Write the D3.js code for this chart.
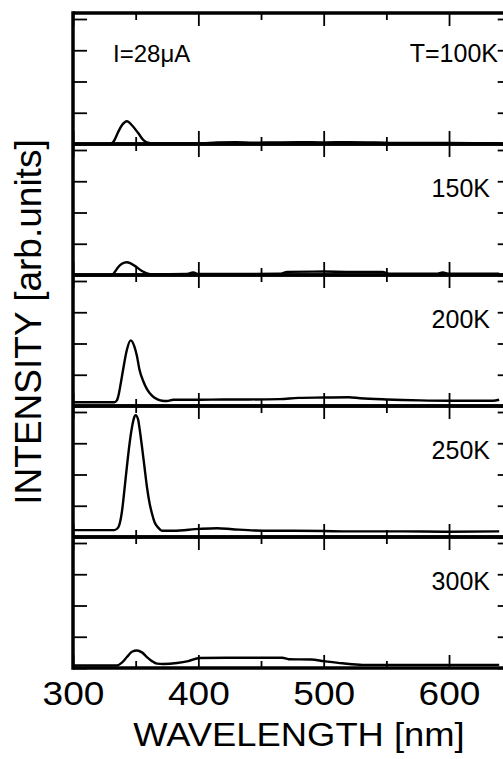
<!DOCTYPE html>
<html>
<head>
<meta charset="utf-8">
<script src="https://cdn.jsdelivr.net/npm/d3@7"></script>
<style>
  body { margin: 0; background: #fff; }
  svg { display: block; }
  text { font-family: "Liberation Sans", Arial, Helvetica, sans-serif; fill: #000; }
</style>
</head>
<body>
<div id="chart"></div>
<script>
// panel labels, top to bottom
const panelLabels = ["T=100K", "150K", "200K", "250K", "300K"];
const currentLabel = "I=28\u03bcA";

// spectra: [wavelength nm, intensity in tick units]
const spec100 = [[300,0],[330,0],[333,0.12],[336,0.38],[339,0.6],[343,0.73],[347,0.6],[352,0.35],[356,0.13],[359,0.05],[364,0.02],
  [400,0.02],[415,0.05],[430,0.06],[444,0.04],[460,0.05],[480,0.06],[500,0.05],[520,0.06],[541,0.05],[560,0.03],[600,0.03],[640,0.02]];
const spec150 = [[300,0],[331,0],[333,0.08],[336,0.25],[339,0.36],[343,0.41],[346,0.37],[349,0.3],[355,0.13],[359,0.05],[364,0.02],
  [390,0.03],[396,0.08],[400,0.03],[465,0.04],[471,0.1],[500,0.11],[520,0.1],[547,0.1],[552,0.04],[590,0.04],[595,0.08],[600,0.04],[640,0.04]];
const spec200 = [[300,0.12],[333,0.12],[335,0.18],[336,0.29],[338,0.7],[340,1.17],[343,1.8],[346,2.1],[349,1.9],[351,1.6],[353,1.17],
  [356,0.8],[359,0.54],[363,0.33],[367,0.22],[371,0.17],[375,0.16],[380,0.2],[400,0.2],[420,0.21],[440,0.21],[465,0.22],
  [480,0.26],[500,0.27],[520,0.28],[529,0.25],[550,0.21],[577,0.18],[600,0.17],[635,0.17],[640,0.2]];
const spec250 = [[300,0.22],[333,0.22],[336,0.3],[339,0.8],[341,1.5],[343,2.25],[345,2.95],[347,3.5],[349,3.85],[350,3.9],[352,3.75],
  [353,3.5],[355,2.9],[357,2.25],[359,1.6],[361,1.1],[363,0.75],[365,0.48],[368,0.3],[371,0.2],[380,0.2],[401,0.26],
  [415,0.28],[427,0.25],[445,0.21],[470,0.2],[500,0.19],[520,0.18],[560,0.18],[600,0.17],[640,0.18]];
const spec300 = [[300,0.08],[335,0.08],[339,0.17],[343,0.35],[347,0.52],[351,0.56],[355,0.5],[359,0.35],[363,0.22],[367,0.14],
  [372,0.13],[383,0.16],[392,0.22],[401,0.32],[430,0.33],[467,0.33],[472,0.28],[490,0.27],[500,0.22],[515,0.15],[531,0.1],
  [560,0.1],[600,0.1],[640,0.1]];
const spectra = [spec100, spec150, spec200, spec250, spec300];

const xTickValues = [300, 350, 400, 450, 500, 550, 600, 650];
const xLabelValues = [300, 400, 500, 600];
const yTickValues = [0, 1, 2, 3, 4];

const width = 503, height = 759;
const top0 = 13, panelH = 131;

const x = d3.scaleLinear().domain([300, 650]).range([73, 511.7]);

const svg = d3.select("#chart").append("svg")
    .attr("width", width)
    .attr("height", height);

const line = d3.line()
    .curve(d3.curveMonotoneX);

spectra.forEach((spec, i) => {
    const pTop = top0 + i * panelH;
    const pBot = pTop + panelH;
    const y = d3.scaleLinear().domain([0, 4]).range([pBot, pBot - 125]);

    const g = svg.append("g");

    // x ticks on top and bottom, pointing inward
    const top = g.append("g")
        .attr("transform", `translate(0,${pTop})`)
        .call(d3.axisTop(x).tickValues(xTickValues).tickSize(-13).tickFormat(""));
    const bot = g.append("g")
        .attr("transform", `translate(0,${pBot})`)
        .call(d3.axisBottom(x).tickValues(xTickValues).tickSize(-13).tickFormat(""));
    top.selectAll(".tick line").attr("y2", d => d % 100 ? 7 : 13);
    bot.selectAll(".tick line").attr("y2", d => d % 100 ? -7 : -13);

    // y ticks left and right
    g.append("g")
        .attr("transform", `translate(${x(300)},0)`)
        .call(d3.axisLeft(y).tickValues(yTickValues).tickSize(-14).tickFormat(""));
    g.append("g")
        .attr("transform", `translate(${x(650)},0)`)
        .call(d3.axisRight(y).tickValues(yTickValues).tickSize(-14).tickFormat(""));

    g.selectAll(".domain").remove();
    g.selectAll(".tick line").attr("stroke", "#000").attr("stroke-width", 1.8);

    // frame lines
    g.append("line")
        .attr("x1", x(300)).attr("x2", x(650))
        .attr("y1", pTop).attr("y2", pTop)
        .attr("stroke", "#000").attr("stroke-width", 3.5);
    g.append("line")
        .attr("x1", x(300)).attr("x2", x(650))
        .attr("y1", pBot).attr("y2", pBot)
        .attr("stroke", "#000").attr("stroke-width", 3.5);

    g.append("path")
        .datum(spec)
        .attr("fill", "none")
        .attr("stroke", "#000")
        .attr("stroke-width", 2.4)
        .attr("stroke-linejoin", "round")
        .attr("d", line.x(d => x(d[0])).y(d => y(d[1])));

    g.append("text")
        .attr("x", i === 0 ? 498 : 490)
        .attr("y", pTop + (i === 0 ? 49 : 53))
        .attr("text-anchor", "end")
        .style("font-size", "25px")
        .text(panelLabels[i]);
});

// left frame
svg.append("line")
    .attr("x1", x(300)).attr("x2", x(300))
    .attr("y1", top0 - 1.75).attr("y2", top0 + 5 * panelH + 1.75)
    .attr("stroke", "#000").attr("stroke-width", 3.5);

// current label
svg.append("text")
    .attr("x", 113)
    .attr("y", 62)
    .style("font-size", "24px")
    .text(currentLabel);

// x tick labels
const xl = svg.append("g")
    .attr("transform", `translate(0,${top0 + 5 * panelH})`)
    .call(d3.axisBottom(x).tickValues(xLabelValues).tickSize(0));
xl.select(".domain").remove();
xl.selectAll("text")
    .attr("y", 37).attr("dy", 0)
    .attr("transform", "scale(1.09,1)")
    .style("font-size", "34px");

svg.append("text")
    .attr("transform", "translate(299,746) scale(1.07,1)")
    .attr("text-anchor", "middle")
    .style("font-size", "34px")
    .text("WAVELENGTH [nm]");

svg.append("text")
    .attr("transform", "translate(41,322) rotate(-90)")
    .attr("text-anchor", "middle")
    .style("font-size", "37px")
    .text("INTENSITY [arb.units]");
</script>
</body>
</html>
